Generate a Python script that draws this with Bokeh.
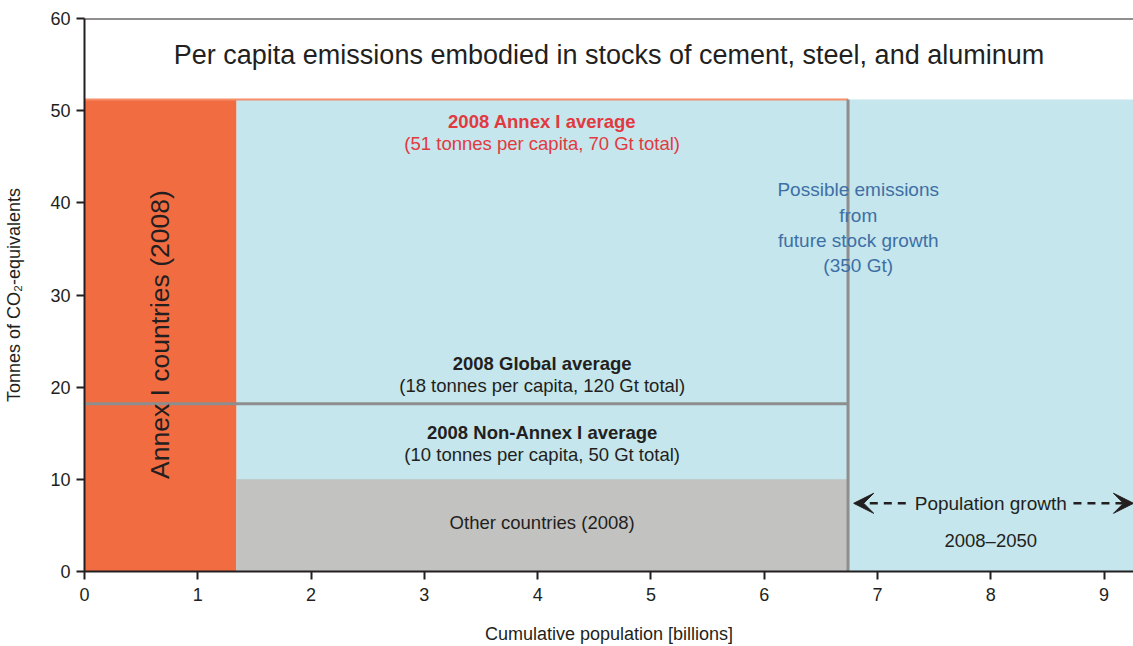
import math
from bokeh.plotting import figure
from bokeh.models import Range1d, FixedTicker, Span, Arrow, VeeHead, ColumnDataSource
from bokeh.core.properties import value
from bokeh.embed import file_html
from bokeh.resources import INLINE

# ---- data ----
region_names = ["Possible future stock growth", "Annex I countries (2008)", "Other countries (2008)"]
region_left = [1.34, 0.0, 1.34]          # cumulative population, billions
region_right = [9.26, 1.34, 6.74]
region_top = [51.2, 51.2, 10.0]          # tonnes CO2-eq per capita
annex_pop = 1.34
world_pop_2008 = 6.74
axis_end = 9.26
annex_avg = 51.2
global_avg = 18.2
nonannex_avg = 10.0
x_ticks = [0, 1, 2, 3, 4, 5, 6, 7, 8, 9]
y_ticks = [0, 10, 20, 30, 40, 50, 60]

FONT = "Liberation Sans"
DARK = "#231f20"
RED = "#e2393f"
BLUE = "#3e6fa5"

p = figure(width=1133, height=646, output_backend="svg", toolbar_location=None,
           x_range=Range1d(0, axis_end), y_range=Range1d(0, 60),
           min_border_left=84, min_border_right=0, min_border_top=18, min_border_bottom=75)
p.outline_line_color = None
p.grid.visible = False
p.background_fill_color = "white"

src = ColumnDataSource(dict(left=region_left, right=region_right, top=region_top,
                            bottom=[0, 0, 0],
                            color=["#c4e6ec", "#f26c42", "#c2c2c1"]))
p.quad(left="left", right="right", bottom="bottom", top="top", fill_color="color",
       line_color=None, source=src)

# separator lines
p.segment(x0=[0], y0=[annex_avg], x1=[world_pop_2008], y1=[annex_avg],
          line_color="#f58d68", line_width=2)
p.segment(x0=[0], y0=[global_avg], x1=[world_pop_2008], y1=[global_avg],
          line_color="#8e8e8e", line_width=3)
p.segment(x0=[world_pop_2008], y0=[0], x1=[world_pop_2008], y1=[annex_avg],
          line_color="#8e8e8e", line_width=3)

p.add_layout(Span(location=60, dimension="width", line_color=DARK, line_width=2))

mid = (annex_pop + world_pop_2008) / 2
right_mid = (world_pop_2008 + axis_end) / 2

def txt(x, y, s, size="18.5px", color=DARK, bold=False, angle=0.0, lh=1.2):
    p.text(x=[x], y=[y], text=[s], text_font=value(FONT), text_font_size=size,
           text_color=color, text_align="center", text_baseline="middle",
           text_font_style="bold" if bold else "normal", angle=angle,
           text_line_height=lh)

txt(axis_end / 2, 56.0, "Per capita emissions embodied in stocks of cement, steel, and aluminum",
    size="27px")
txt(mid, 48.8, "2008 Annex I average", color=RED, bold=True)
txt(mid, 46.4, "(51 tonnes per capita, 70 Gt total)", color=RED)
txt(mid, 22.6, "2008 Global average", bold=True)
txt(mid, 20.2, "(18 tonnes per capita, 120 Gt total)")
txt(mid, 15.1, "2008 Non-Annex I average", bold=True)
txt(mid, 12.7, "(10 tonnes per capita, 50 Gt total)")
txt(mid, 5.3, "Other countries (2008)")
txt(6.83, 37.3, "Possible emissions\nfrom\nfuture stock growth\n(350 Gt)", size="19px",
    color=BLUE, lh=1.2)
txt(annex_pop / 2, 25.7, "Annex I countries (2008)", size="26.5px", angle=math.pi / 2)
txt(right_mid, 7.4, "Population growth", size="19px")
txt(right_mid, 3.4, "2008\u20132050")

for xs, xe in [(7.25, world_pop_2008 + 0.05), (8.73, axis_end)]:
    p.add_layout(Arrow(end=VeeHead(size=20, fill_color=DARK, line_color=DARK),
                       x_start=xs, y_start=7.4, x_end=xe, y_end=7.4,
                       line_color=DARK, line_width=2.5, line_dash="8 6"))

for ax in (p.xaxis[0], p.yaxis[0]):
    ax.axis_line_color = DARK
    ax.axis_line_width = 2
    ax.major_tick_line_color = DARK
    ax.major_tick_line_width = 2
    ax.major_tick_out = 8
    ax.major_tick_in = 0
    ax.minor_tick_line_color = None
    ax.major_label_text_font = FONT
    ax.major_label_text_font_size = "18px"
    ax.major_label_text_color = DARK
    ax.axis_label_text_font = FONT
    ax.axis_label_text_font_size = "18px"
    ax.axis_label_text_color = DARK
    ax.axis_label_text_font_style = "normal"

p.xaxis.ticker = FixedTicker(ticks=x_ticks)
p.yaxis.ticker = FixedTicker(ticks=y_ticks)
p.xaxis.axis_label = "Cumulative population [billions]"
p.yaxis.axis_label = "Tonnes of CO\u2082-equivalents"
p.xaxis.major_label_standoff = 8
p.yaxis.major_label_standoff = 6
p.xaxis.axis_label_standoff = 20
p.yaxis.axis_label_standoff = 23

open("out.html", "w").write(file_html(p, INLINE))
